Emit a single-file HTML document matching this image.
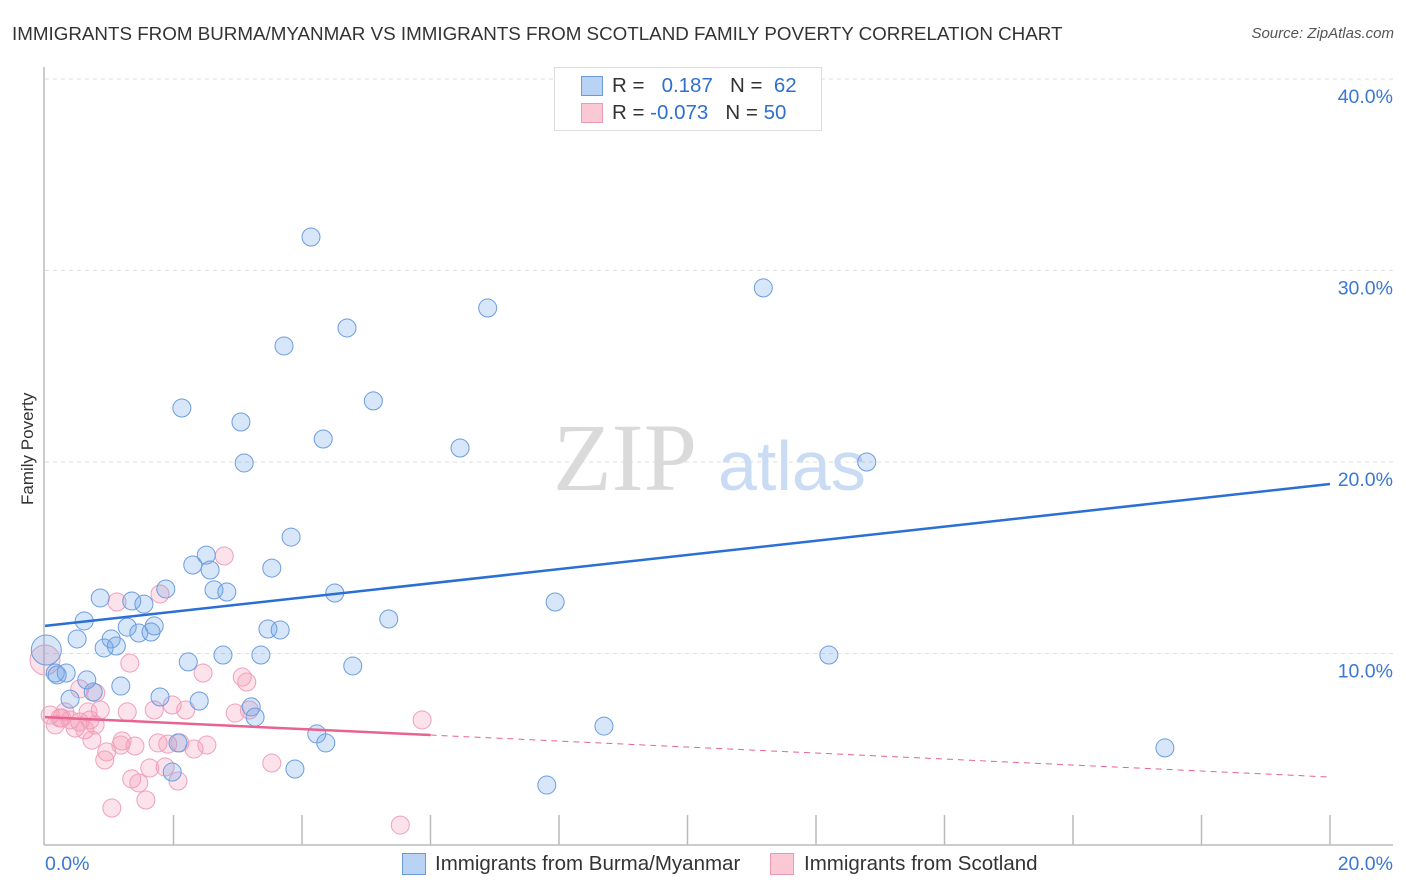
<!DOCTYPE html>
<html><head><meta charset="utf-8"><style>
body{margin:0;background:#fff;font-family:"Liberation Sans",sans-serif;}
#wrap{position:relative;width:1406px;height:892px;overflow:hidden;}
.t{position:absolute;white-space:nowrap;}
</style></head><body>
<div id="wrap">
<div class="t" style="left:12px;top:23px;font-size:18.8px;color:#333;">IMMIGRANTS FROM BURMA/MYANMAR VS IMMIGRANTS FROM SCOTLAND FAMILY POVERTY CORRELATION CHART</div>
<div class="t" style="right:12px;top:25px;font-size:15px;color:#555;font-style:italic;">Source: ZipAtlas.com</div>
<div class="t" style="left:-22px;top:445px;font-size:17px;color:#333;transform:rotate(-90deg);transform-origin:center;width:100px;text-align:center;">Family Poverty</div>
<svg id="svg" width="1406" height="892" style="position:absolute;left:0;top:0"></svg>
<div class="t" style="left:554px;top:67px;width:266px;height:62px;border:1px solid #ddd;background:#fff;">
 <div style="position:absolute;left:26px;top:8px;width:20px;height:18px;background:#b8d3f3;border:1px solid #6a9ad8;"></div>
 <div style="position:absolute;left:26px;top:35px;width:20px;height:18px;background:#fbc8d6;border:1px solid #eb9ab2;"></div>
 <div class="t" style="left:57px;top:6px;font-size:20.5px;color:#333">R = &nbsp;&nbsp;<span style="color:#2f6fd0">0.187</span>&nbsp;&nbsp;&nbsp;N = &nbsp;<span style="color:#2f6fd0">62</span></div>
 <div class="t" style="left:57px;top:33px;font-size:20.5px;color:#333">R = <span style="color:#2f6fd0">-0.073</span>&nbsp;&nbsp;&nbsp;N = <span style="color:#2f6fd0">50</span></div>
</div>
<div class="t" style="left:402px;top:853px;width:22px;height:20px;background:#b8d3f3;border:1px solid #6a9ad8;"></div>
<div class="t" style="left:435px;top:852px;font-size:20.5px;color:#333">Immigrants from Burma/Myanmar</div>
<div class="t" style="left:770px;top:853px;width:22px;height:20px;background:#fbc8d6;border:1px solid #eb9ab2;"></div>
<div class="t" style="left:804px;top:852px;font-size:20.5px;color:#333">Immigrants from Scotland</div>
</div>
<script>
const xTicks=["0.0%","20.0%"];
const yTickVals=[10,20,30,40];
const yTickLabels=["10.0%","20.0%","30.0%","40.0%"];
const blueX=[4.14,6.89,11.18,4.70,3.72,5.11,2.13,3.05,4.33,6.46,3.10,12.79,3.83,2.51,2.30,3.53,2.57,1.88,2.63,2.83,4.51,0.86,1.35,1.54,7.94,0.61,5.35,1.70,1.28,3.47,3.66,1.46,1.65,1.03,0.50,1.11,0.92,2.77,3.36,12.20,0.02,2.23,4.79,0.16,0.33,0.19,0.65,1.18,1.79,2.40,0.75,0.39,3.21,3.27,8.70,4.23,4.37,2.07,17.43,3.89,1.98,7.81];
const blueY=[31.75,28.04,29.09,27.00,26.06,23.19,22.82,22.09,21.20,20.73,19.95,20.00,16.08,15.14,14.62,14.46,14.36,13.37,13.32,13.21,13.16,12.90,12.74,12.58,12.69,11.70,11.80,11.44,11.38,11.28,11.23,11.07,11.12,10.76,10.76,10.39,10.29,9.92,9.92,9.92,10.18,9.56,9.35,8.98,8.98,8.88,8.62,8.30,7.73,7.52,7.99,7.62,7.21,6.68,6.21,5.80,5.33,5.33,5.07,3.97,3.81,3.13];
const pinkX=[2.79,1.12,1.79,1.32,2.46,3.07,3.14,0.54,0.79,2.96,3.18,0.86,1.28,1.70,1.98,2.19,0.0,0.08,0.23,0.39,0.54,0.70,0.16,0.47,0.62,0.78,0.26,5.87,0.73,1.20,1.40,0.96,0.93,1.76,1.91,2.10,2.32,2.52,3.53,1.63,1.87,1.35,1.46,2.07,1.57,1.04,5.53,0.31,1.18,0.67];
const pinkY=[15.09,12.69,13.11,9.50,8.98,8.77,8.51,8.15,7.94,6.89,7.05,7.05,6.95,7.05,7.31,7.05,9.66,6.79,6.63,6.53,6.42,6.53,6.27,6.11,6.01,6.27,6.63,6.53,5.48,5.43,5.17,4.86,4.44,5.33,5.27,5.33,5.01,5.22,4.28,4.02,4.07,3.45,3.24,3.34,2.35,1.93,1.04,6.95,5.22,6.95];
const blueTrend=[11.44,18.85];
const pinkTrend=[6.68,3.55];
const pinkSolidEnd=6;
const X0=45,X1=1330,Y0=845,PPY=19.15;
const sx=v=>X0+(v/20)*(X1-X0);
const sy=v=>Y0-v*PPY;
const svg=document.getElementById('svg');
const NS='http://www.w3.org/2000/svg';
function mk(tag,attrs){const e=document.createElementNS(NS,tag);for(const k in attrs)e.setAttribute(k,attrs[k]);svg.appendChild(e);return e;}
yTickVals.forEach((v,i)=>{
 const g=mk('line',{x1:45,x2:1393,y1:sy(v),y2:sy(v),stroke:'#ddd','stroke-dasharray':'4,4'});
 
 
 const t=mk('text',{x:1393,y:sy(v)+24,'text-anchor':'end','font-size':'19.5',fill:'#3a78d4','font-family':'Liberation Sans, sans-serif'});
 t.textContent=yTickLabels[i];
 
 
});
const topLine=mk('line',{x1:45,x2:1393,y1:79,y2:79,stroke:'#ddd','stroke-dasharray':'4,4'});


const ya=mk('line',{x1:44,x2:44,y1:67,y2:845,stroke:'#bbb','stroke-width':1.5});


const xa=mk('line',{x1:44,x2:1393,y1:845,y2:845,stroke:'#bbb','stroke-width':1.5});


for(let i=1;i<=10;i++){const tk=mk('line',{x1:sx(i*2),x2:sx(i*2),y1:815,y2:845,stroke:'#bbb','stroke-width':1.5});
 
 }
const xl0=mk('text',{x:45,y:870,'font-size':'19.5',fill:'#3a78d4','font-family':'Liberation Sans, sans-serif'});xl0.textContent=xTicks[0];


const xl1=mk('text',{x:1393,y:870,'text-anchor':'end','font-size':'19.5',fill:'#3a78d4','font-family':'Liberation Sans, sans-serif'});xl1.textContent=xTicks[1];


const w1=mk('text',{x:553,y:490,'font-size':'96','font-family':'Liberation Serif, serif',fill:'#dadada'});w1.textContent='ZIP';


const w2=mk('text',{x:718,y:490,'font-size':'70','font-family':'Liberation Sans, sans-serif',fill:'#cadcf3'});w2.textContent='atlas';


pinkX.forEach((x,i)=>{const c=mk('circle',{cx:sx(x),cy:sy(pinkY[i]),r:(i==16?15:9),fill:'rgba(245,150,180,0.28)',stroke:'#f0a0bb','stroke-width':1});
 
 });
blueX.forEach((x,i)=>{const c=mk('circle',{cx:sx(x),cy:sy(blueY[i]),r:(i==40?15:9),fill:'rgba(110,165,230,0.28)',stroke:'#6b9de0','stroke-width':1});
 
 });
const bt=mk('line',{x1:sx(0),y1:sy(blueTrend[0]),x2:sx(20),y2:sy(blueTrend[1]),stroke:'#2a6fd4','stroke-width':2.5});


const pm=pinkTrend[0]+(pinkTrend[1]-pinkTrend[0])*pinkSolidEnd/20;
const pt=mk('line',{x1:sx(0),y1:sy(pinkTrend[0]),x2:sx(pinkSolidEnd),y2:sy(pm),stroke:'#e8638f','stroke-width':2.5});


const pd=mk('line',{x1:sx(pinkSolidEnd),y1:sy(pm),x2:sx(20),y2:sy(pinkTrend[1]),stroke:'#e8638f','stroke-width':1,'stroke-dasharray':'6,5'});


</script>
</body></html>
